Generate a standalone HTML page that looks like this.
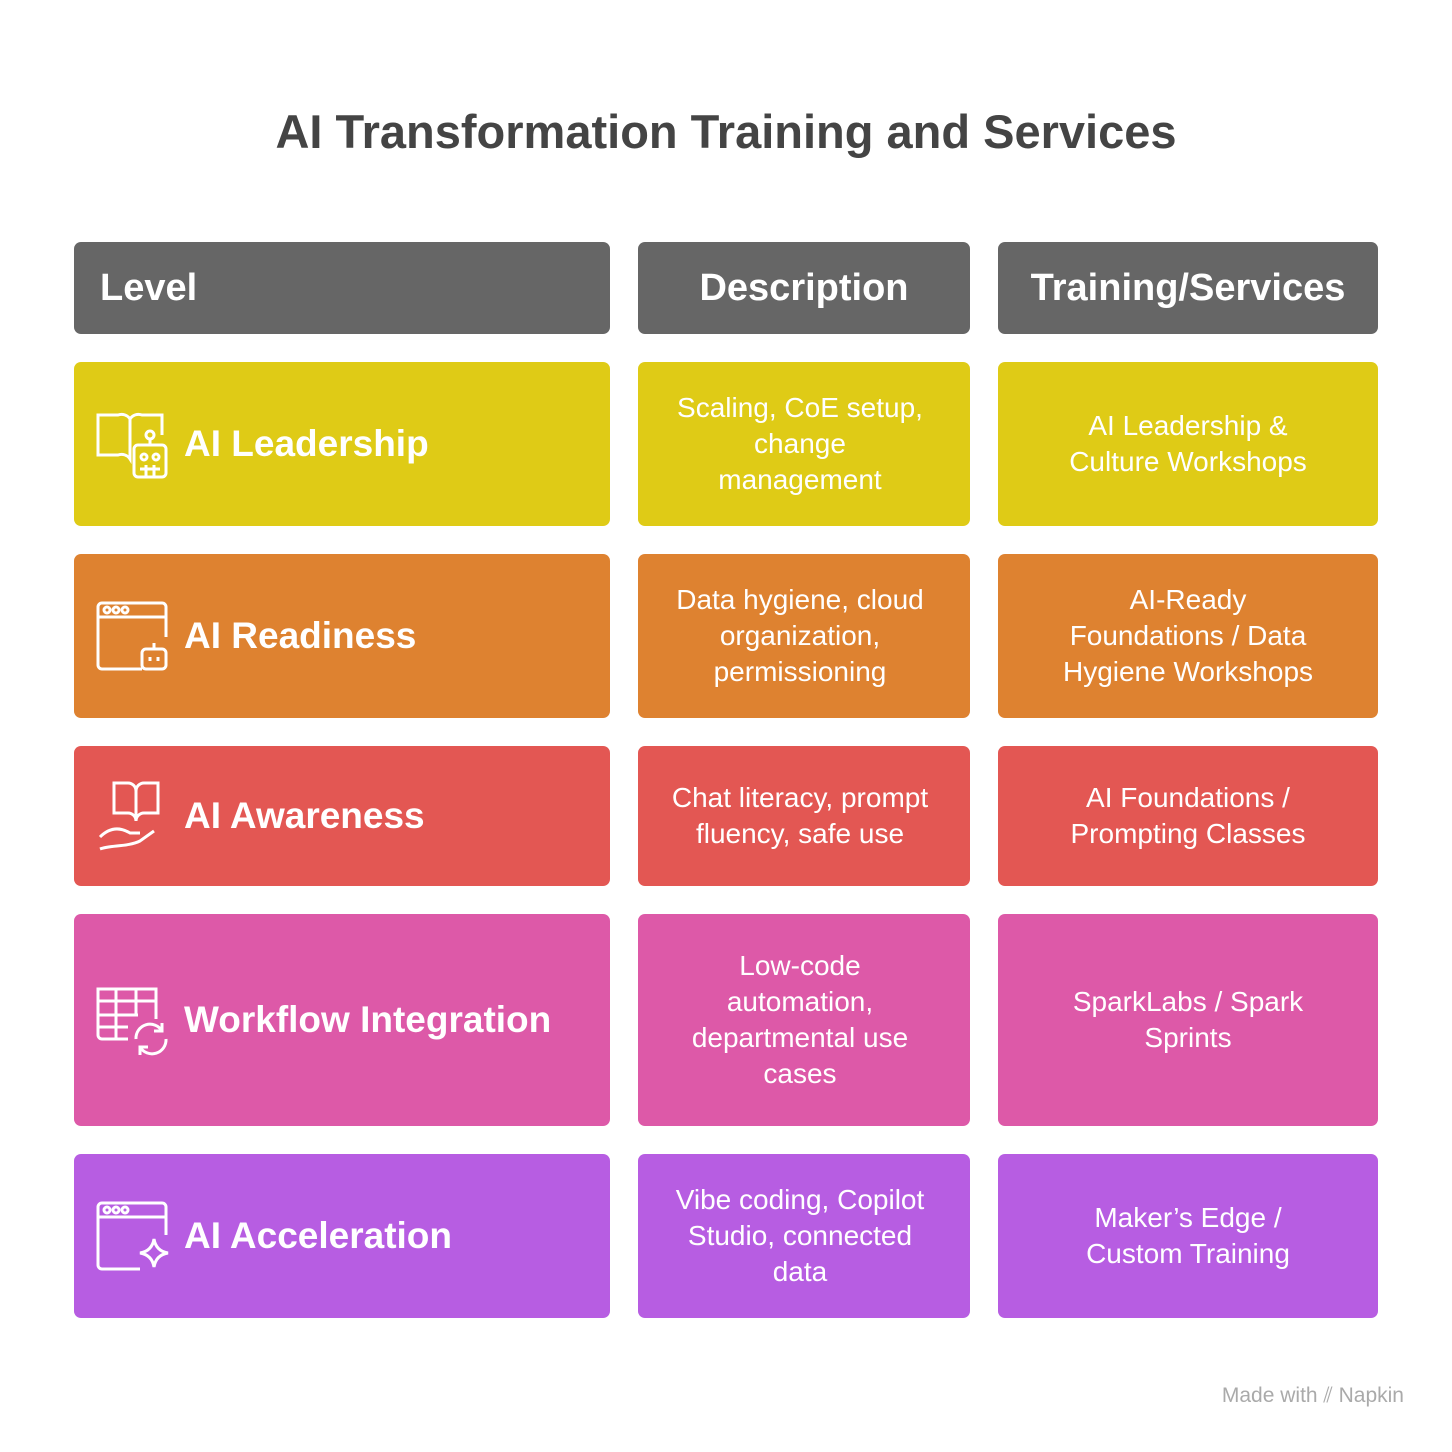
<!DOCTYPE html>
<html><head><meta charset="utf-8"><style>
body{margin:0;width:1452px;height:1452px;background:#fff;font-family:"Liberation Sans",Arial,sans-serif;position:relative;overflow:hidden}
.t{position:absolute;left:0;width:1452px;top:104px;text-align:center;font-size:47px;font-weight:bold;color:#444}
.c{position:absolute;border-radius:7px;color:#fff;display:flex;align-items:center;justify-content:center;text-align:center;font-size:28px;line-height:36px;box-sizing:border-box}
.d{padding-right:8px}
.h{background:#666;font-weight:bold;font-size:38px}
.l{justify-content:flex-start;font-weight:bold;font-size:37px;padding-left:110px;text-align:left}
.l svg{position:absolute;left:22px;top:50%;transform:translateY(-50%)}
.y{background:#DFCB16}.o{background:#DE8230}.r{background:#E35753}.p{background:#DD59A8}.v{background:#B75DE2}
.m{position:absolute;right:48px;top:1384px;font-size:21px;color:#aaa}
</style></head><body>
<div class="t">AI Transformation Training and Services</div>
<div class="c h" style="left:74px;top:242px;width:536px;height:92px;justify-content:flex-start;padding-left:26px">Level</div>
<div class="c h" style="left:638px;top:242px;width:332px;height:92px">Description</div>
<div class="c h" style="left:998px;top:242px;width:380px;height:92px">Training/Services</div>

<div class="c l y" style="left:74px;top:362px;width:536px;height:164px"><svg width="74" height="74" viewBox="0 0 74 74" fill="none" stroke="#fff" stroke-width="3"><path d="M2 8h20a10 10 0 0 1 12 4v40a10 10 0 0 0-12-4H2z"/><path d="M34 12a10 10 0 0 1 12-4h20v20"/><circle cx="54" cy="28" r="4"/><path d="M54 32v6"/><rect x="38" y="38" width="32" height="32" rx="4"/><circle cx="48" cy="50" r="3"/><circle cx="60" cy="50" r="3"/><path d="M44 62h20M50 58v12M58 58v12"/></svg>AI Leadership</div>
<div class="c d y" style="left:638px;top:362px;width:332px;height:164px">Scaling, CoE setup,<br>change<br>management</div>
<div class="c y" style="left:998px;top:362px;width:380px;height:164px">AI Leadership &amp;<br>Culture Workshops</div>

<div class="c l o" style="left:74px;top:554px;width:536px;height:164px"><svg width="74" height="74" viewBox="0 0 74 74" fill="none" stroke="#fff" stroke-width="3"><path d="M46 70H6a4 4 0 0 1-4-4V8a4 4 0 0 1 4-4h60a4 4 0 0 1 4 4v30"/><path d="M2 18h68"/><circle cx="11" cy="11" r="3"/><circle cx="20" cy="11" r="3"/><circle cx="29" cy="11" r="3"/><rect x="46" y="50" width="24" height="20" rx="4"/><path d="M58 50v-6M54 58v4M62 58v4"/></svg>AI Readiness</div>
<div class="c d o" style="left:638px;top:554px;width:332px;height:164px">Data hygiene, cloud<br>organization,<br>permissioning</div>
<div class="c o" style="left:998px;top:554px;width:380px;height:164px">AI-Ready<br>Foundations / Data<br>Hygiene Workshops</div>

<div class="c l r" style="left:74px;top:746px;width:536px;height:140px"><svg width="74" height="74" viewBox="0 0 74 74" fill="none" stroke="#fff" stroke-width="3"><path d="M18 4h14a8 8 0 0 1 8 8v30a8 8 0 0 0-8-8H18z"/><path d="M62 4H48a8 8 0 0 0-8 8v30a8 8 0 0 1 8-8h14z"/><path d="M4 58c10-10 20-10 30-4h10M4 70c10-4 28-2 40-8l14-10"/></svg>AI Awareness</div>
<div class="c d r" style="left:638px;top:746px;width:332px;height:140px">Chat literacy, prompt<br>fluency, safe use</div>
<div class="c r" style="left:998px;top:746px;width:380px;height:140px">AI Foundations /<br>Prompting Classes</div>

<div class="c l p" style="left:74px;top:914px;width:536px;height:212px"><svg width="74" height="74" viewBox="0 0 74 74" fill="none" stroke="#fff" stroke-width="3"><path d="M32 56H6a4 4 0 0 1-4-4V6h58v30M2 18h58M2 32h40M2 44h30M20 6v50M40 6v26"/><path d="M40 56a14 14 0 0 1 26-8M70 56a14 14 0 0 1-26 8M66 40v8h-8M44 72v-8h8"/></svg>Workflow Integration</div>
<div class="c d p" style="left:638px;top:914px;width:332px;height:212px">Low-code<br>automation,<br>departmental use<br>cases</div>
<div class="c p" style="left:998px;top:914px;width:380px;height:212px">SparkLabs / Spark<br>Sprints</div>

<div class="c l v" style="left:74px;top:1154px;width:536px;height:164px"><svg width="74" height="74" viewBox="0 0 74 74" fill="none" stroke="#fff" stroke-width="3"><path d="M44 70H6a4 4 0 0 1-4-4V8a4 4 0 0 1 4-4h60a4 4 0 0 1 4 4v28"/><path d="M2 18h68"/><circle cx="11" cy="11" r="3"/><circle cx="20" cy="11" r="3"/><circle cx="29" cy="11" r="3"/><path d="M58 40q2 12 14 14q-12 2-14 14q-2-12-14-14q12-2 14-14z"/></svg>AI Acceleration</div>
<div class="c d v" style="left:638px;top:1154px;width:332px;height:164px">Vibe coding, Copilot<br>Studio, connected<br>data</div>
<div class="c v" style="left:998px;top:1154px;width:380px;height:164px">Maker’s Edge /<br>Custom Training</div>

<div class="m">Made with ⫽ Napkin</div>
</body></html>
